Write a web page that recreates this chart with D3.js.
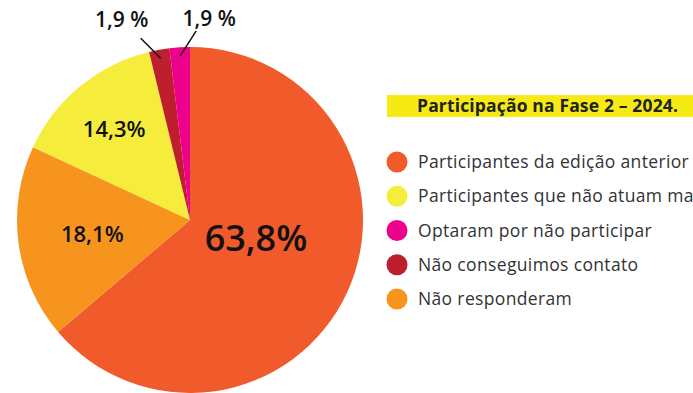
<!DOCTYPE html>
<html lang="pt">
<head>
<meta charset="UTF-8">
<title>Participação na Fase 2 – 2024</title>
<script src="https://cdn.jsdelivr.net/npm/d3@7"></script>
<style>
  html, body { margin: 0; padding: 0; background: #fff; overflow: hidden; }
  svg { display: block; }
</style>
</head>
<body>
<script>
  // slices, clockwise from 12 o'clock
  const categories = ["Participantes da edição anterior", "Não responderam", "Participantes que não atuam mais", "Não conseguimos contato", "Optaram por não participar"];
  const values = [63.8, 18.1, 14.3, 1.9, 1.9];
  const valueLabels = ["63,8%", "18,1%", "14,3%", "1,9 %", "1,9 %"];
  const colors = ["#f15a2b", "#f7941e", "#f6ec3b", "#be1e2d", "#ec008c"];

  // legend order as in the figure
  const legendOrder = ["Participantes da edição anterior", "Participantes que não atuam mais", "Optaram por não participar", "Não conseguimos contato", "Não responderam"];
  const legendTitle = "Participação na Fase 2 – 2024.";

  const width = 693, height = 393;
  const cx = 190, cy = 220, radius = 173;

  const color = d3.scaleOrdinal().domain(categories).range(colors);

  const svg = d3.select("body").append("svg")
    .attr("width", width)
    .attr("height", height);

  const data = categories.map((c, i) => ({ cat: c, value: values[i], label: valueLabels[i] }));

  const pie = d3.pie().sort(null).value(d => d.value);
  const arcs = pie(data);
  const arc = d3.arc().innerRadius(0).outerRadius(radius);

  const g = svg.append("g").attr("transform", `translate(${cx},${cy})`);

  g.selectAll("path.slice")
    .data(arcs)
    .enter().append("path")
    .attr("class", "slice")
    .attr("d", arc)
    .attr("fill", d => color(d.data.cat));

  // labels inside the big slices (fraction of radius, font size)
  const inside = { 0: [0.42, 36], 1: [0.57, 22], 2: [0.69, 22] };
  g.selectAll("text.in")
    .data(arcs.filter((d, i) => inside[i]))
    .enter().append("text")
    .attr("class", "in")
    .attr("transform", d => {
      const [k] = inside[d.index];
      const p = d3.arc().innerRadius(radius * k).outerRadius(radius * k).centroid(d);
      return `translate(${p[0]},${p[1]})`;
    })
    .attr("text-anchor", "middle")
    .attr("dy", d => d.index === 0 ? "0" : "0.4em")
    .attr("font-family", "'Open Sans', sans-serif")
    .attr("font-weight", 600)
    .attr("font-size", d => inside[d.index][1])
    .attr("fill", "#111")
    .text(d => d.data.label);

  // small slices: leader lines going up and out
  const leader = { 3: [-20, -20, -19, -11], 4: [16, -25, 13, -5] };
  const smallArcs = arcs.filter(d => leader[d.index]);
  const inner = d3.arc().innerRadius(radius * 0.95).outerRadius(radius * 0.95);

  const sm = g.selectAll("g.small")
    .data(smallArcs)
    .enter().append("g")
    .attr("class", "small");

  sm.append("line")
    .attr("x1", d => inner.centroid(d)[0])
    .attr("y1", d => inner.centroid(d)[1])
    .attr("x2", d => inner.centroid(d)[0] + leader[d.index][0])
    .attr("y2", d => inner.centroid(d)[1] + leader[d.index][1])
    .attr("stroke", "#111")
    .attr("stroke-width", 1.5);

  sm.append("text")
    .attr("x", d => inner.centroid(d)[0] + leader[d.index][0] + leader[d.index][2])
    .attr("y", d => inner.centroid(d)[1] + leader[d.index][1] + leader[d.index][3])
    .attr("text-anchor", "middle")
    .attr("font-family", "'Open Sans', sans-serif")
    .attr("font-weight", 600)
    .attr("font-size", 21)
    .attr("fill", "#111")
    .text(d => d.data.label);

  // legend
  const lx = 387;
  svg.append("rect")
    .attr("x", lx).attr("y", 95)
    .attr("width", width - lx).attr("height", 22)
    .attr("fill", "#f5ea14");

  svg.append("text")
    .attr("x", 417).attr("y", 112)
    .attr("font-family", "'Open Sans', sans-serif")
    .attr("font-weight", 700)
    .attr("font-size", 17.5)
    .attr("letter-spacing", 0.15)
    .attr("fill", "#222")
    .text(legendTitle);

  const ly = d3.scalePoint().domain(legendOrder).range([162, 299]);

  const items = svg.selectAll("g.item")
    .data(legendOrder)
    .enter().append("g")
    .attr("class", "item")
    .attr("transform", d => `translate(${lx + 10},${ly(d)})`);

  items.append("circle")
    .attr("r", 10.5)
    .attr("fill", d => color(d));

  items.append("text")
    .attr("x", 21)
    .attr("dy", "0.35em")
    .attr("font-family", "'Open Sans', sans-serif")
    .attr("font-size", 17.5)
    .attr("letter-spacing", 0.35)
    .attr("fill", "#333")
    .text(d => d);
</script>
</body>
</html>
